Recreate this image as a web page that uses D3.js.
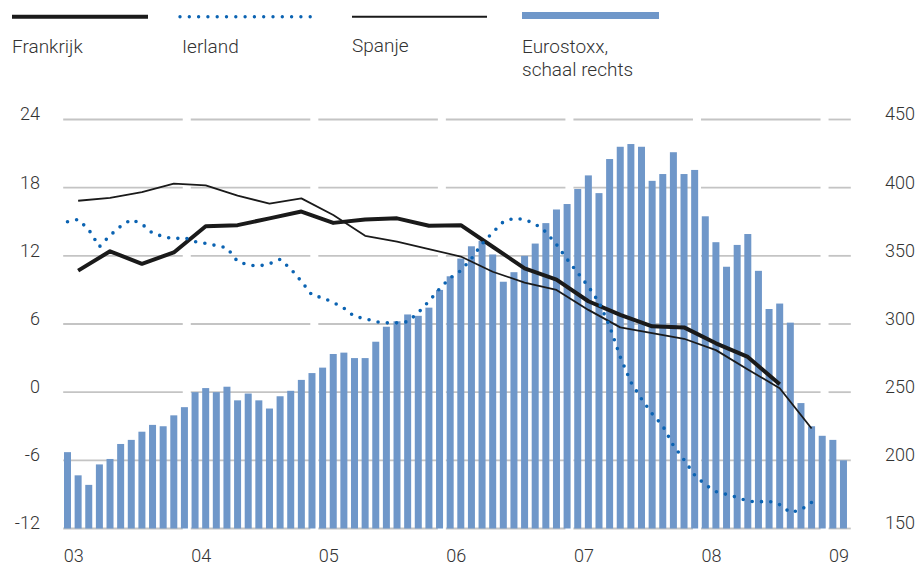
<!DOCTYPE html>
<html>
<head>
<meta charset="utf-8">
<script src="https://cdn.jsdelivr.net/npm/d3@7/dist/d3.min.js"></script>
<style>
  body { margin: 0; background: #fff; }
  svg { display: block; font-family: Roboto, "Liberation Sans", sans-serif; font-weight: 300; }
  .tick text { fill: #333; font-size: 18px; }
  .legend text { fill: #333; font-size: 19px; }
</style>
</head>
<body>
<svg id="chart" width="921" height="567"></svg>
<script>
// jaarlabels op de x-as
var years = ["03", "04", "05", "06", "07", "08", "09"];
var leftTicks = [-12, -6, 0, 6, 12, 18, 24];
var rightTicks = [150, 200, 250, 300, 350, 400, 450];

// Eurostoxx, maandelijks jan 2003 - feb 2009 (schaal rechts)
var eurostoxx = [
    206, 189, 182, 197, 201, 212, 215, 221, 226, 225, 233, 239,
    250, 253, 250, 254, 244, 249, 244, 238, 247, 251, 259, 264,
    268, 278, 279, 275, 275, 287, 298, 302, 307, 306, 312, 325,
    335, 348, 357, 361, 351, 331, 338, 350, 359, 374, 384, 388,
    399, 409, 396, 421, 430, 432, 430, 405, 410, 426, 410, 413,
    379, 360, 342, 358, 366, 339, 311, 315, 301, 242, 225, 218,
    215, 200
];

// Ierland, maandelijks jan 2003 - nov 2008
var ierland = [
    15.0, 15.2, 14.3, 12.8, 13.8, 14.6, 15.2, 14.8, 14.0, 13.7, 13.5, 13.6,
    13.25, 13.1, 12.9, 12.7, 11.5, 11.2, 11.1, 11.3, 11.7, 10.85, 9.75, 8.55,
    8.3, 7.9, 7.4, 6.66, 6.47, 6.2, 6.1, 6.1, 6.2, 7.0, 8.0, 9.1,
    10.06, 10.7, 11.76, 13.06, 14.06, 15.0, 15.3, 15.2, 14.8, 14.1, 13.0, 11.7,
    10.5, 9.3, 7.9, 5.8, 3.1, 0.88, -0.6, -1.9, -2.97, -4.7, -5.96, -7.3,
    -8.15, -8.75, -9.0, -9.26, -9.6, -9.65, -9.6, -9.9, -10.6, -10.35, -9.7
];

// Frankrijk, per kwartaal Q1 2003 - Q3 2008
var frankrijk = [
    10.7, 12.4, 11.3, 12.3,
    14.6, 14.7, 15.3, 15.9,
    14.9, 15.2, 15.3, 14.65,
    14.7, 12.8, 10.9, 9.9,
    8.0, 6.8, 5.8, 5.7,
    4.3, 3.1, 0.7
];

// Spanje, per kwartaal Q1 2003 - Q4 2008
var spanje = [
    16.85, 17.1, 17.6, 18.35,
    18.2, 17.3, 16.6, 17.06,
    15.6, 13.76, 13.26, 12.6,
    11.94, 10.6, 9.65, 9.0,
    7.24, 5.7, 5.2, 4.7,
    3.7, 2.0, 0.35, -3.2
];

var blue = "#6f97c9";
var dotBlue = "#0b63b2";
var black = "#1a1a1a";

var svg = d3.select("#chart");

// maand-index -> pixel
var x = d3.scaleLinear().domain([0, 74]).range([62.2, 848.8]);
var yL = d3.scaleLinear().domain([-12, 24]).range([528.5, 119.5]);
var yR = d3.scaleLinear().domain([150, 450]).range([528.5, 119.5]);

// rasterlijnen, per jaar onderbroken
var segs = [];
for (var k = 0; k < years.length; k++) {
    var x0 = x(k * 12) + 1;
    var x1 = (k < years.length - 1) ? x((k + 1) * 12) - 7 : x(74) + 2;
    segs.push([x0, x1]);
}
var grid = svg.append("g").attr("class", "grid");
leftTicks.forEach(function (t) {
    grid.selectAll(null)
        .data(segs)
        .enter()
        .append("line")
        .attr("x1", function (s) { return s[0]; })
        .attr("x2", function (s) { return s[1]; })
        .attr("y1", yL(t))
        .attr("y2", yL(t))
        .attr("stroke", "#c4c4c4")
        .attr("stroke-width", 1.8);
});

// staven
svg.append("g")
    .selectAll("rect")
    .data(eurostoxx)
    .enter()
    .append("rect")
    .attr("x", function (d, i) { return x(i) + 1.8; })
    .attr("width", 7)
    .attr("y", function (d) { return yR(d); })
    .attr("height", function (d) { return yR(150) - yR(d); })
    .attr("fill", blue);

// lijnen
var monthLine = d3.line()
    .x(function (d, i) { return x(i + 0.5); })
    .y(function (d) { return yL(d); });
var quarterLine = d3.line()
    .x(function (d, i) { return x(i * 3 + 1.5); })
    .y(function (d) { return yL(d); });

svg.append("path")
    .datum(spanje)
    .attr("d", quarterLine)
    .attr("fill", "none")
    .attr("stroke", black)
    .attr("stroke-width", 1.8)
    .attr("stroke-linejoin", "round");

svg.append("path")
    .datum(frankrijk)
    .attr("d", quarterLine)
    .attr("fill", "none")
    .attr("stroke", black)
    .attr("stroke-width", 4)
    .attr("stroke-linejoin", "round");

svg.append("path")
    .datum(ierland)
    .attr("d", monthLine)
    .attr("fill", "none")
    .attr("stroke", dotBlue)
    .attr("stroke-width", 3.6)
    .attr("stroke-linecap", "round")
    .attr("stroke-dasharray", "0 9.3");

// assen
var axL = svg.append("g")
    .attr("transform", "translate(40,0)")
    .call(d3.axisLeft(yL).tickValues(leftTicks).tickSize(0).tickPadding(0)
        .tickFormat(function (d) { return String(d); }));
var axR = svg.append("g")
    .attr("transform", "translate(885,0)")
    .call(d3.axisRight(yR).tickValues(rightTicks).tickSize(0).tickPadding(0)
        .tickFormat(function (d) { return String(d); }));
var axB = svg.append("g")
    .attr("transform", "translate(0,562)")
    .call(d3.axisBottom(d3.scaleLinear().domain([0, 74]).range(x.range()))
        .tickValues(d3.range(years.length).map(function (k) { return k * 12; }))
        .tickSize(0).tickPadding(0)
        .tickFormat(function (d) { return years[d / 12]; }));

[axL, axR, axB].forEach(function (ax) {
    ax.select(".domain").remove();
    ax.attr("font-family", null).attr("font-size", null);
});
axL.selectAll("text").attr("dy", "0.02em").attr("x", 0);
axR.selectAll("text").attr("dy", "0.02em").attr("x", 0);
axB.selectAll("text").attr("dy", 0).attr("y", 0)
    .attr("text-anchor", "start").attr("x", 1);

// legenda
var legend = svg.append("g").attr("class", "legend");
legend.append("line").attr("x1", 12).attr("x2", 148).attr("y1", 16.7).attr("y2", 16.7)
    .attr("stroke", black).attr("stroke-width", 4);
legend.append("line").attr("x1", 180).attr("x2", 312).attr("y1", 16.7).attr("y2", 16.7)
    .attr("stroke", dotBlue).attr("stroke-width", 3.4)
    .attr("stroke-linecap", "round").attr("stroke-dasharray", "0 9.3");
legend.append("line").attr("x1", 352).attr("x2", 487).attr("y1", 16.7).attr("y2", 16.7)
    .attr("stroke", black).attr("stroke-width", 2);
legend.append("rect").attr("x", 522).attr("y", 12).attr("width", 137).attr("height", 7)
    .attr("fill", blue);

var labels = [
    ["Frankrijk", 12, 53],
    ["Ierland", 182, 53],
    ["Spanje", 352, 52],
    ["Eurostoxx,", 522, 53],
    ["schaal rechts", 522, 76]
];
legend.selectAll("text")
    .data(labels)
    .enter()
    .append("text")
    .attr("x", function (d) { return d[1]; })
    .attr("y", function (d) { return d[2]; })
    .text(function (d) { return d[0]; });
</script>
</body>
</html>
